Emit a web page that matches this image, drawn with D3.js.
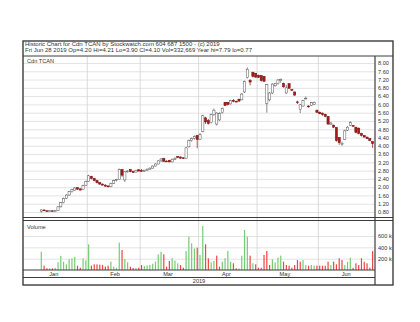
<!DOCTYPE html>
<html>
<head>
<meta charset="utf-8">
<script src="https://cdn.jsdelivr.net/npm/d3@7"></script>
<style>
  body { margin: 0; background: #fff; }
  text { font-family: "Liberation Sans", Arial, sans-serif; fill: #333; }
</style>
</head>
<body>
<svg id="chart" width="420" height="322"></svg>
<script>
// Trading days of 2019 (TSX-V calendar), one list per month
var janDays = [2,3,4,7,8,9,10,11,14,15,16,17,18,21,22,23,24,25,28,29,30,31];
var febDays = [1,4,5,6,7,8,11,12,13,14,15,19,20,21,22,25,26,27,28];
var marDays = [1,4,5,6,7,8,11,12,13,14,15,18,19,20,21,22,25,26,27,28,29];
var aprDays = [1,2,3,4,5,8,9,10,11,12,15,16,17,18,22,23,24,25,26,29,30];
var mayDays = [1,2,3,6,7,8,9,10,13,14,15,16,17,21,22,23,24,27,28,29,30,31];
var junDays = [3,4,5,6,7,10,11,12,13,14,17,18,19,20,21,24,25,26,27,28];
var monthNames = ["Jan", "Feb", "Mar", "Apr", "May", "Jun"];
var firstTradeDay = [0, 9]; // Cdn TCAN starts trading Jan 9

// OHLC and volume (thousands), Jan 9 .. Jun 28
var opens = [0.84,0.90,0.86,0.85,0.86,0.84,0.87,1.05,1.25,1.46,1.62,1.78,1.86,1.98,1.92,1.88,2.08,
  2.28,2.52,2.42,2.32,2.22,2.15,2.10,2.06,2.02,2.18,2.32,2.36,2.85,2.35,2.74,2.85,2.75,2.73,2.84,
  2.80,2.77,2.82,2.87,2.92,3.02,3.12,3.27,3.38,3.26,3.30,3.22,3.35,3.48,3.46,3.42,3.40,3.95,4.25,4.35,4.50,
  4.32,4.70,5.35,5.22,5.12,5.50,5.05,5.25,5.60,6.10,6.10,6.02,6.20,6.15,6.25,6.22,6.60,7.30,7.15,7.55,7.50,
  7.40,7.40,7.35,6.05,6.22,6.55,6.90,7.00,7.15,7.02,6.55,7.00,6.72,6.60,6.12,5.75,5.92,6.28,5.92,5.95,6.00,5.72,
  5.62,5.58,5.52,5.42,5.05,5.00,4.88,4.40,4.05,4.30,4.75,4.98,4.98,4.90,4.85,4.60,4.50,4.42,4.35,4.20];
var highs = [0.92,0.91,0.87,0.87,0.86,0.88,1.08,1.28,1.50,1.66,1.82,1.92,2.00,2.00,1.94,2.12,2.32,
  2.60,2.55,2.45,2.36,2.25,2.18,2.14,2.08,2.22,2.36,2.40,2.90,2.88,2.78,2.82,2.87,2.80,2.84,2.86,
  2.88,2.84,2.90,2.95,3.05,3.15,3.30,3.40,3.42,3.30,3.32,3.38,3.44,3.50,3.48,3.44,3.95,4.30,4.40,4.50,4.52,
  4.62,5.50,5.40,5.30,5.55,5.80,5.62,5.62,5.85,6.12,6.12,6.22,6.26,6.18,6.28,6.55,7.15,7.79,7.22,7.58,7.52,
  7.44,7.42,7.38,6.98,6.60,7.02,7.05,7.22,7.25,7.05,6.95,7.02,6.75,6.62,6.18,6.02,6.22,6.38,5.96,6.12,6.14,5.75,
  5.66,5.60,5.55,5.44,5.15,5.02,4.90,4.42,4.20,4.78,4.95,5.18,5.00,4.92,4.88,4.62,4.52,4.44,4.36,4.21];
var lows = [0.77,0.84,0.83,0.84,0.83,0.83,0.86,1.02,1.22,1.42,1.58,1.74,1.84,1.88,1.84,1.86,2.05,
  2.25,2.38,2.28,2.18,2.12,2.08,2.02,1.98,2.00,2.15,2.28,2.34,2.50,2.25,2.70,2.72,2.70,2.72,2.76,
  2.76,2.75,2.80,2.85,2.90,3.00,3.10,3.22,3.22,3.22,3.20,3.20,3.32,3.40,3.38,3.36,3.38,3.92,4.20,4.30,3.88,
  4.28,4.65,5.05,5.02,5.08,5.45,4.98,5.20,5.55,5.92,5.95,6.00,6.10,6.10,6.12,6.20,6.55,7.25,6.92,7.30,7.28,
  7.28,7.10,7.08,5.60,6.15,6.50,6.85,6.95,7.05,6.80,6.52,6.76,6.65,6.42,6.02,5.58,5.90,6.25,5.84,5.92,5.98,5.58,
  5.52,5.45,5.38,5.02,5.00,4.85,4.20,4.05,4.00,4.28,4.72,4.95,4.92,4.60,4.55,4.45,4.40,4.32,4.22,3.90];
var closes = [0.90,0.86,0.85,0.86,0.84,0.87,1.05,1.25,1.46,1.62,1.78,1.88,1.96,1.90,1.86,2.08,2.28,
  2.55,2.42,2.32,2.22,2.15,2.10,2.05,2.02,2.18,2.32,2.36,2.85,2.58,2.74,2.78,2.75,2.73,2.82,2.78,
  2.77,2.82,2.87,2.92,3.02,3.12,3.27,3.36,3.25,3.24,3.22,3.35,3.40,3.44,3.40,3.38,3.90,4.25,4.35,4.45,4.30,
  4.55,5.45,5.15,5.08,5.50,5.72,5.58,5.55,5.80,5.95,6.00,6.18,6.15,6.12,6.16,6.50,7.10,7.70,7.08,7.35,7.32,
  7.30,7.15,7.12,6.95,6.55,6.98,7.02,7.18,7.20,6.85,6.80,6.78,6.68,6.45,6.10,5.98,6.18,6.30,5.88,6.08,6.10,5.62,
  5.55,5.50,5.42,5.05,5.10,4.90,4.25,4.15,4.12,4.72,4.90,5.12,4.95,4.65,4.60,4.50,4.42,4.35,4.25,4.10];
var volumes = [323,76,30,30,30,40,135,250,147,100,190,205,230,76,40,205,170,
  453,76,100,100,95,90,60,76,147,60,40,482,353,194,135,59,35,35,40,
  88,70,80,90,110,147,276,323,276,60,159,206,165,118,88,40,335,588,470,382,394,
  265,776,453,205,135,160,253,60,147,206,335,147,118,30,25,253,705,588,253,118,100,
  40,40,265,335,88,188,135,217,253,147,88,76,40,88,176,147,176,88,76,88,76,76,
  76,76,76,147,88,147,100,206,176,88,147,217,40,118,88,206,147,118,40,333];

var priceTicks = [0.80,1.20,1.60,2.00,2.40,2.80,3.20,3.60,4.00,4.40,4.80,5.20,5.60,6.00,6.40,6.80,7.20,7.60,8.00];
var volumeTicks = [200,400,600];
var titleLine = "Historic Chart for Cdn TCAN by Stockwatch.com 604 687 1500 - (c) 2019";
var quoteLine = "Fri Jun 28 2019 Op=4.20 Hi=4.21 Lo=3.90 Cl=4.10 Vol=332,669 Year hi=7.79 lo=0.77";

// Layout of the Stockwatch frame
var frameL = 23, frameR = 393, frameT = 41, frameB = 285;
var plotR = 375, headB = 56, priceB = 217.5, volT = 220.5, volB = 270, monthB = 277.5;

var svg = d3.select("#chart");

// Step1:- build the trading calendar and the bars
var allMonths = [janDays, febDays, marDays, aprDays, mayDays, junDays];
var tradingDays = [];
allMonths.forEach(function(days, m){
    days.forEach(function(d){ tradingDays.push(new Date(2019, m, d)); });
});
var dayKey = d3.timeFormat("%Y-%m-%d");
var startIdx = tradingDays.findIndex(function(d){
    return d.getMonth() == firstTradeDay[0] && d.getDate() == firstTradeDay[1];
});
var bars = opens.map(function(o, i){
    return {date: tradingDays[startIdx + i], o: o, h: highs[i], l: lows[i], c: closes[i], v: volumes[i],
            up: i == 0 ? true : closes[i] >= closes[i-1]};
});

// Step2:- scales
var xScale = d3.scaleBand()
                .domain(tradingDays.map(dayKey))
                .range([26, 374])
                .padding(0);
var step = xScale.step();
var cx = function(d){ return xScale(dayKey(d)) + step / 2; };

var yPrice = d3.scaleLinear().domain([0.8, 8.0]).range([212, 63]);
var yVol = d3.scaleLinear().domain([0, 600]).range([volB, 236]);

// Step3:- gridlines
var gridG = svg.append("g");
gridG.append("g")
    .attr("transform", `translate(${plotR},0)`)
    .call(d3.axisLeft(yPrice).tickValues(priceTicks).tickSize(plotR - frameL).tickFormat(""))
    .call(g => g.select(".domain").remove())
    .selectAll("line").attr("stroke", "#dcdcdc").attr("stroke-width", 0.8);
gridG.append("g")
    .attr("transform", `translate(${plotR},0)`)
    .call(d3.axisLeft(yVol).tickValues(volumeTicks).tickSize(plotR - frameL).tickFormat(""))
    .call(g => g.select(".domain").remove())
    .selectAll("line").attr("stroke", "#dcdcdc").attr("stroke-width", 0.8);

var monthStarts = allMonths.map(function(days, m){ return new Date(2019, m, days[0]); });
gridG.selectAll(".vgrid")
    .data(monthStarts.slice(1))
    .enter()
    .append("line")
    .attr("x1", d => xScale(dayKey(d)))
    .attr("x2", d => xScale(dayKey(d)))
    .attr("y1", headB)
    .attr("y2", volB)
    .attr("stroke", "#d0d0d0")
    .attr("stroke-width", 0.8);

// Step4:- candles
var candleG = svg.append("g");
candleG.selectAll(".wick")
    .data(bars)
    .enter()
    .append("line")
    .attr("x1", d => cx(d.date))
    .attr("x2", d => cx(d.date))
    .attr("y1", d => yPrice(d.h))
    .attr("y2", d => yPrice(d.l))
    .attr("stroke", d => d.c < d.o ? "#7a1010" : "#555")
    .attr("stroke-width", 0.7);

candleG.selectAll(".body")
    .data(bars)
    .enter()
    .append("rect")
    .attr("x", d => cx(d.date) - 1.1)
    .attr("width", 2.2)
    .attr("y", d => yPrice(Math.max(d.o, d.c)))
    .attr("height", d => Math.max(0.8, Math.abs(yPrice(d.o) - yPrice(d.c))))
    .attr("fill", d => d.c < d.o ? "#a51c1c" : "#fff")
    .attr("stroke", d => d.c < d.o ? "#7a1010" : "#555")
    .attr("stroke-width", 0.5);

// Step5:- volume bars
svg.append("g").selectAll("rect")
    .data(bars)
    .enter()
    .append("rect")
    .attr("x", d => cx(d.date) - 0.6)
    .attr("width", 1.2)
    .attr("y", d => yVol(d.v))
    .attr("height", d => volB - yVol(d.v))
    .attr("fill", d => d.up ? "#74cc74" : "#ee4444");

// Step6:- right axes labels
svg.append("g")
    .attr("transform", `translate(${plotR},0)`)
    .call(d3.axisRight(yPrice).tickValues(priceTicks).tickSize(0).tickPadding(3).tickFormat(d3.format(".2f")))
    .call(g => g.select(".domain").remove())
    .selectAll("text").attr("font-size", 5.6).attr("fill", "#333").attr("font-family", null);
svg.append("g")
    .attr("transform", `translate(${plotR},0)`)
    .call(d3.axisRight(yVol).tickValues(volumeTicks).tickSize(0).tickPadding(3).tickFormat(d => d + " k"))
    .call(g => g.select(".domain").remove())
    .selectAll("text").attr("font-size", 5.6).attr("fill", "#333").attr("font-family", null);

// Step7:- month and year labels
svg.append("g").selectAll("text")
    .data(allMonths)
    .enter()
    .append("text")
    .attr("x", (days, m) => xScale(dayKey(new Date(2019, m, days[10]))))
    .attr("y", 276)
    .attr("text-anchor", "middle")
    .attr("font-size", 5.6)
    .text((days, m) => monthNames[m]);
svg.append("text")
    .attr("x", (frameL + plotR) / 2)
    .attr("y", 283.4)
    .attr("text-anchor", "middle")
    .attr("font-size", 5.6)
    .text("2019");

// Step8:- frame and header
var frameG = svg.append("g").attr("stroke", "#3c3c3c").attr("fill", "none");
frameG.append("rect").attr("x", frameL).attr("y", frameT).attr("width", frameR - frameL).attr("height", frameB - frameT).attr("stroke-width", 1.4);
frameG.append("line").attr("x1", frameL).attr("x2", frameR).attr("y1", headB).attr("y2", headB).attr("stroke-width", 1);
frameG.append("line").attr("x1", plotR).attr("x2", plotR).attr("y1", headB).attr("y2", frameB).attr("stroke-width", 1.2);
frameG.append("line").attr("x1", frameL).attr("x2", frameR).attr("y1", priceB).attr("y2", priceB).attr("stroke-width", 1);
frameG.append("line").attr("x1", frameL).attr("x2", frameR).attr("y1", volT).attr("y2", volT).attr("stroke-width", 1);
frameG.append("line").attr("x1", frameL).attr("x2", plotR).attr("y1", volB).attr("y2", volB).attr("stroke-width", 1.2);
frameG.append("line").attr("x1", frameL).attr("x2", plotR).attr("y1", monthB).attr("y2", monthB).attr("stroke-width", 1);

svg.append("text").attr("x", 25).attr("y", 46.3).attr("font-size", 6).text(titleLine);
svg.append("text").attr("x", 25).attr("y", 51.6).attr("font-size", 6).text(quoteLine);
svg.append("text").attr("x", 27).attr("y", 63).attr("font-size", 5.6).text("Cdn TCAN");
svg.append("text").attr("x", 27).attr("y", 229).attr("font-size", 5.6).text("Volume");
</script>
</body>
</html>
